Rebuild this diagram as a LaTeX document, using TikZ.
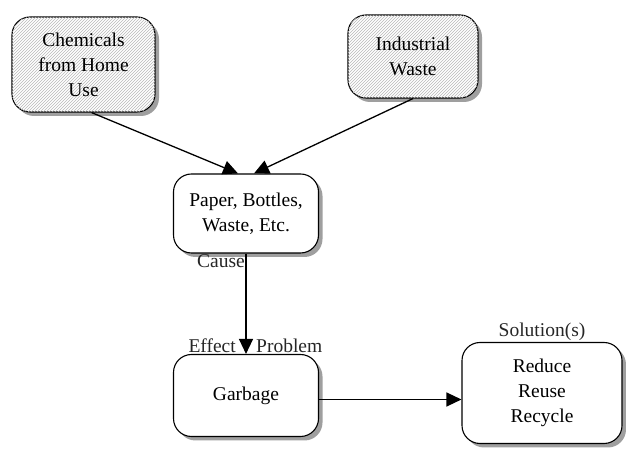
\documentclass[tikz,border=0pt]{standalone}
\usepackage{fontspec}
\setmainfont{Liberation Serif}
\usetikzlibrary{arrows.meta, shadows, patterns}
\tikzstyle{hatched} = [rectangle, rounded corners=18pt, align=center, draw=black, line width=1.1pt, fill=white, drop shadow={shadow xshift=4pt, shadow yshift=-4pt, fill=gray!75, opacity=1}, postaction={pattern=north east lines, pattern color=gray!55}]
\tikzstyle{plain} = [rectangle, rounded corners=18pt, align=center, draw=black, line width=1.1pt, fill=white, drop shadow={shadow xshift=4pt, shadow yshift=-4pt, fill=gray!75, opacity=1}]
\tikzstyle{tag} = [inner sep=1pt, text=black!85]
\tikzstyle{arrow} = [line width=1.3pt, -{Triangle[length=15pt,width=14pt]}]

\begin{document}
\begin{tikzpicture}[x=1pt, y=1pt, node distance=182pt, font=\fontsize{19.5}{25}\selectfont]
\useasboundingbox (0,0) rectangle (626,449);

\node (chem) [hatched, minimum width=143pt, minimum height=95pt] at (83.5,384.5) {Chemicals\\from Home\\Use};

\node (ind) [hatched, minimum width=130pt, minimum height=83pt] at (413,392.5) {Industrial\\Waste};

\node (paper) [plain, minimum width=145pt, minimum height=79pt] at (246,235.5) {Paper, Bottles,\\Waste, Etc.};

\node (garbage) [plain, below of=paper, minimum width=145pt, minimum height=82pt] {Garbage};

\node (sol) [plain, right of=garbage, xshift=114pt, yshift=2.5pt, minimum width=160pt, minimum height=101pt] {Reduce\\Reuse\\Recycle};

% labels
\node (cause) [tag, anchor=north east] at (paper.south) {Cause};
\node (effect) [tag, anchor=south east, xshift=-9pt] at (garbage.north) {Effect};
\node (problem) [tag, anchor=south west, xshift=9pt] at (garbage.north) {Problem};
\node (solution) [tag, anchor=south] at (sol.north) {Solution(s)};

\draw [arrow] ([xshift=8pt]chem.south) -- ([xshift=-8pt]paper.north);
\draw [arrow] (ind.south) -- ([xshift=8pt]paper.north);
\draw [arrow] (paper) -- (garbage);
\draw [arrow] ([yshift=-4pt]garbage.east) -- ([yshift=-4pt]garbage.east -| sol.west);

\end{tikzpicture}
\end{document}
